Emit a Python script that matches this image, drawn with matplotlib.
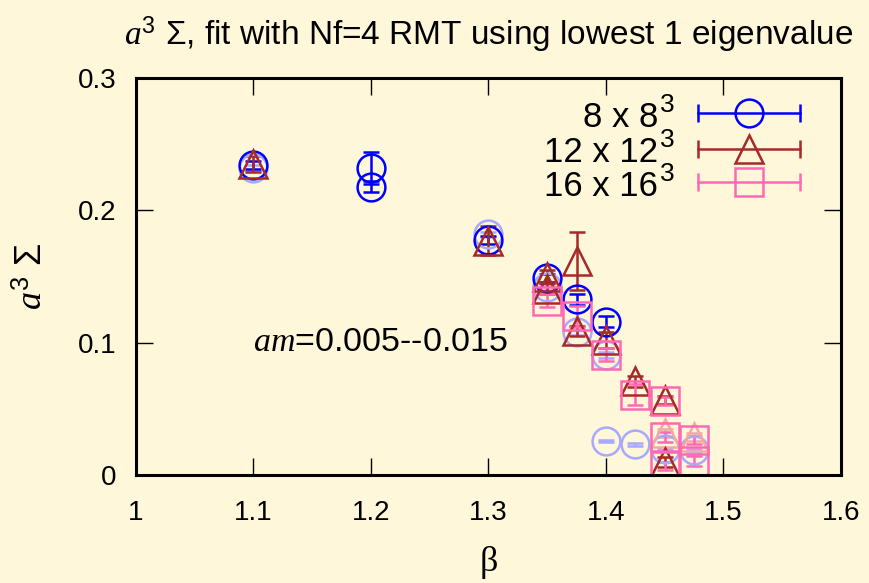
import matplotlib
matplotlib.use('Agg')
from matplotlib import pyplot as plt

plt.rcParams['font.family'] = ['Liberation Sans', 'DejaVu Sans']
plt.rcParams['mathtext.fontset'] = 'custom'
plt.rcParams['mathtext.rm'] = 'Liberation Sans'
plt.rcParams['mathtext.it'] = 'Liberation Serif:italic'

# 8 x 8^3
beta8 = [1.1, 1.2, 1.2, 1.3, 1.35, 1.375, 1.4]
sig8 = [0.234, 0.232, 0.218, 0.178, 0.149, 0.133, 0.116]
err8 = [0.003, 0.012, 0.004, 0.003, 0.003, 0.004, 0.004]

# 12 x 12^3
beta12 = [1.1, 1.3, 1.35, 1.35, 1.375, 1.375, 1.4, 1.425, 1.45, 1.45]
sig12 = [0.235, 0.177, 0.150, 0.141, 0.162, 0.109, 0.102, 0.071, 0.057, 0.010]
err12 = [0.006, 0.011, 0.005, 0.004, 0.022, 0.004, 0.006, 0.004, 0.003, 0.004]

# 16 x 16^3
beta16 = [1.35, 1.375, 1.4, 1.425, 1.45, 1.45, 1.45, 1.475, 1.475]
sig16 = [0.132, 0.120, 0.091, 0.061, 0.056, 0.029, 0.007, 0.027, 0.011]
err16 = [0.005, 0.008, 0.005, 0.008, 0.003, 0.004, 0.003, 0.003, 0.004]

# faint points (no key)
beta8f = [1.1, 1.3, 1.35, 1.375, 1.4, 1.4, 1.425, 1.45, 1.475]
sig8f = [0.232, 0.182, 0.142, 0.108, 0.091, 0.026, 0.0235, 0.020, 0.019]
err8f = [0.002, 0.002, 0.002, 0.002, 0.002, 0.001, 0.001, 0.001, 0.001]
beta12f = [1.45, 1.475]
sig12f = [0.032, 0.029]
err12f = [0.003, 0.003]

bg = '#fef7d9'
fig = plt.figure(figsize=(8.69, 5.83), dpi=100, facecolor=bg)
ax = fig.add_axes([0.1562, 0.1845, 0.8116, 0.6818], facecolor=bg)

ms, cs, lw = 20, 6, 1.8
common = dict(ls='none', mfc='none', ms=ms, capsize=cs, mew=lw, elinewidth=lw, capthick=lw)

ax.errorbar(beta8f, sig8f, yerr=err8f, fmt='o', color='#a8a8ff', **common)
ax.errorbar(beta12f, sig12f, yerr=err12f, fmt='^', color='#f2aaa2', **common)
ax.errorbar(beta8, sig8, yerr=err8, fmt='o', color='#0000ff', **common)
ax.errorbar(beta12, sig12, yerr=err12, fmt='^', color='#a52a2a', **common)
ax.errorbar(beta16, sig16, yerr=err16, fmt='s', color='#ff69b4', **common)

ax.set_xlim(1.0, 1.6)
ax.set_ylim(0, 0.3)
ax.set_xticks([1, 1.1, 1.2, 1.3, 1.4, 1.5, 1.6])
ax.set_xticklabels(['1', '1.1', '1.2', '1.3', '1.4', '1.5', '1.6'])
ax.set_yticks([0, 0.1, 0.2, 0.3])
ax.set_yticklabels(['0', '0.1', '0.2', '0.3'])
ax.tick_params(direction='in', top=True, right=True, length=12, width=1, labelsize=20)
ax.tick_params(axis='x', pad=18)
ax.tick_params(axis='y', pad=14)
for s in ax.spines.values():
    s.set_linewidth(2.2)

ax.set_xlabel('β', family='Liberation Serif', fontsize=26, labelpad=14)
ax.set_ylabel(r'$a^3$ Σ', fontsize=26, labelpad=20)
ax.set_title(r'$a^3$ Σ, fit with Nf=4 RMT using lowest 1 eigenvalue', fontsize=24, pad=24)

ax.text(1.208, 0.1, r'$am$=0.005--0.015', fontsize=24.5, ha='center', va='center')

# key
keys = [('8 x 8', 'o', '#0000ff'), ('12 x 12', '^', '#a52a2a'), ('16 x 16', 's', '#ff69b4')]
rows = [0.911, 0.8214, 0.7376]
for (lab, mk, col), yy in zip(keys, rows):
    ax.plot([0.797, 0.942], [yy, yy], color=col, lw=lw, transform=ax.transAxes, clip_on=False)
    ax.plot([0.797, 0.942], [yy, yy], ls='none', marker='|', ms=13, mew=lw, color=col,
            transform=ax.transAxes, clip_on=False)
    ax.plot([0.8696], [yy], ls='none', marker=mk, ms=ms, mfc='none', mew=lw, color=col,
            transform=ax.transAxes, clip_on=False)
    ax.text(0.7405, yy - 0.034, lab, fontsize=25, ha='right', va='baseline', transform=ax.transAxes)
    ax.text(0.7436, yy + 0.004, '3', fontsize=19, ha='left', va='baseline', transform=ax.transAxes)

fig.savefig('out.png', dpi=100, facecolor=bg)
